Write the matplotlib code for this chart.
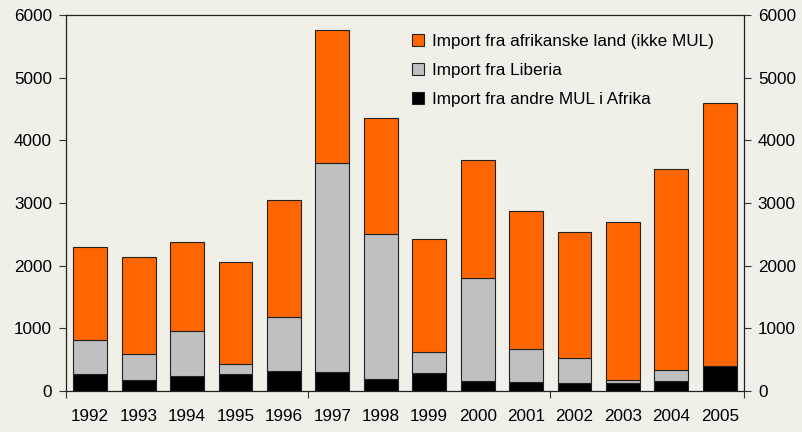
import matplotlib
matplotlib.use("Agg")
import matplotlib.pyplot as plt
from matplotlib.patches import Patch
import numpy as np

years = ["1992", "1993", "1994", "1995", "1996", "1997", "1998",
         "1999", "2000", "2001", "2002", "2003", "2004", "2005"]
andre_mul = [270, 180, 235, 265, 320, 305, 190, 290, 160, 145, 130, 130, 160, 395]
liberia = [550, 405, 715, 170, 860, 3340, 2315, 335, 1650, 520, 395, 40, 170, 0]
afrikanske = [1470, 1550, 1430, 1630, 1870, 2120, 1845, 1795, 1880, 2205, 2015, 2525, 3205, 4195]

labels = ["Import fra afrikanske land (ikke MUL)", "Import fra Liberia", "Import fra andre MUL i Afrika"]
colors = ["#FF6600", "#C0C0C0", "#000000"]

plt.rcParams['font.family'] = ['Liberation Sans', 'DejaVu Sans']
bg = "#F0EFE8"
fs = 12.3
fig = plt.figure(figsize=(8.02, 4.32), dpi=100, facecolor=bg)
ax = fig.add_axes([66/802, 1 - 391/432, (744-66)/802, (391-15)/432])
ax.set_facecolor(bg)

x = np.arange(len(years))
w = 0.7
a = np.array(andre_mul)
l = np.array(liberia)
f = np.array(afrikanske)
ax.bar(x, a, w, color=colors[2], edgecolor="#222222", linewidth=0.8, zorder=3)
ax.bar(x, l, w, bottom=a, color=colors[1], edgecolor="#222222", linewidth=0.8, zorder=3)
ax.bar(x, f, w, bottom=a + l, color=colors[0], edgecolor="#222222", linewidth=0.8, zorder=3)

ax.set_xlim(-0.5, len(years) - 0.5)
ax.set_ylim(0, 6000)
ax.set_yticks(range(0, 6001, 1000))
ax.set_xticks(x)
ax.set_xticklabels(years, fontsize=fs)
ax.tick_params(axis='x', length=0, pad=13)
ax.set_xticks([-0.5, 4.5, 9.5, 13.5], minor=True)
ax.tick_params(axis='x', which='minor', length=5, width=0.8, color="#333333")
ax.tick_params(axis='y', labelsize=fs, length=5, width=0.8, color="#333333", pad=5,
               left=True, right=True, labelleft=True, labelright=True)
for s in ax.spines.values():
    s.set_color("#222222")
    s.set_linewidth(0.9)

handles = [Patch(facecolor=c, edgecolor="#222222", linewidth=0.8) for c in colors]
leg = ax.legend(handles, labels, loc="upper left", bbox_to_anchor=(0.5005, 0.968),
                frameon=False, fontsize=fs, handlelength=0.7, handleheight=0.7,
                handletextpad=0.45, labelspacing=0.82, borderaxespad=0)

fig.savefig("out.png", dpi=100, facecolor=bg)
